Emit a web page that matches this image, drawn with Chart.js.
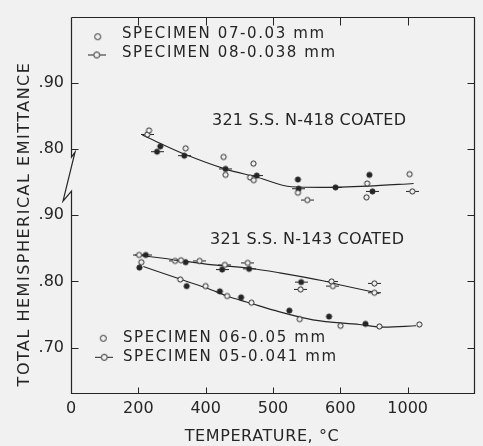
<!DOCTYPE html>
<html>
<head>
<meta charset="utf-8">
<script src="https://cdn.jsdelivr.net/npm/chart.js@4.4.1/dist/chart.umd.min.js"></script>
<style>
html,body{margin:0;padding:0;background:#f1f1f1;}
canvas{display:block;}
</style>
</head>
<body>
<canvas id="c" width="483" height="446"></canvas>
<script>
// ---------- DATA ----------
// x values are positions on the (non-uniform) temperature axis; tick i carries label X_TICK_LABELS[i]
const X_TICK_LABELS = ['0', '200', '400', '500', '600', '1000'];
// y axis is broken: lower panel (N-143) uses true emittance, upper panel (N-418) is shifted by UPPER_SHIFT
const Y_TICK_VALUES = [0.70, 0.80, 0.90, 1.00, 1.10];
const Y_TICK_LABELS = ['.70', '.80', '.90', '.80', '.90'];
const UPPER_SHIFT = 0.20;

const X_TITLE = 'TEMPERATURE, °C';
const Y_TITLE = 'TOTAL HEMISPHERICAL EMITTANCE';
const LABEL_N418 = '321 S.S. N-418 COATED';
const LABEL_N143 = '321 S.S. N-143 COATED';
const LEGEND_UPPER = ['SPECIMEN 07-0.03 mm', 'SPECIMEN 08-0.038 mm'];
const LEGEND_LOWER = ['SPECIMEN 06-0.05 mm', 'SPECIMEN 05-0.041 mm'];

// Upper panel: 321 S.S. N-418 coated
const n418OpenX = [1.159, 1.703, 2.266, 2.295, 2.710, 2.660, 2.714, 3.370, 4.398, 4.388, 5.029];
const n418OpenY = [0.828, 0.801, 0.788, 0.761, 0.778, 0.757, 0.753, 0.734, 0.748, 0.727, 0.762];
const n418OpenTickX = [1.134, 3.510, 5.069];
const n418OpenTickY = [0.822, 0.723, 0.736];
const n418SolidX = [1.327, 3.370, 4.432];
const n418SolidY = [0.804, 0.754, 0.761];
const n418SolidTickX = [1.278, 1.682, 2.295, 2.759, 3.381, 3.929, 4.477];
const n418SolidTickY = [0.796, 0.790, 0.770, 0.760, 0.740, 0.742, 0.736];
const n418CurveX = [1.060, 1.693, 2.285, 2.778, 3.273, 3.717, 4.407, 5.088];
const n418CurveY = [0.821, 0.792, 0.770, 0.757, 0.743, 0.742, 0.744, 0.748];

// Lower panel: 321 S.S. N-143 coated
const n143OpenTickX = [1.011, 1.545, 1.633, 1.910, 2.285, 2.625, 3.410, 3.869, 3.889, 4.506, 4.506];
const n143OpenTickY = [0.840, 0.831, 0.832, 0.831, 0.825, 0.828, 0.788, 0.800, 0.793, 0.797, 0.783];
const n143SolidTickX = [1.111, 2.245, 2.645, 3.418];
const n143SolidTickY = [0.840, 0.818, 0.819, 0.799];
const n143SolidX = [1.703, 1.016, 1.718, 2.211, 2.526, 3.243, 3.832, 4.373];
const n143SolidY = [0.829, 0.821, 0.793, 0.785, 0.776, 0.756, 0.747, 0.736];
const n143OpenX = [1.045, 1.623, 1.999, 2.319, 2.680, 3.396, 4.003, 4.580, 5.173];
const n143OpenY = [0.829, 0.803, 0.793, 0.778, 0.768, 0.743, 0.733, 0.732, 0.735];
const n143UpperCurveX = [0.952, 1.371, 2.112, 2.655, 3.099, 3.741, 4.037, 4.580];
const n143UpperCurveY = [0.840, 0.835, 0.825, 0.820, 0.813, 0.801, 0.794, 0.782];
const n143LowerCurveX = [1.075, 1.519, 2.014, 2.359, 2.606, 3.099, 3.592, 4.284, 4.654, 5.124];
const n143LowerCurveY = [0.8225, 0.807, 0.790, 0.7765, 0.769, 0.754, 0.742, 0.735, 0.731, 0.733];

// ---------- STYLE ----------
const INK = '#252525';
const BG = '#f1f1f1';
const FONT = '"DejaVu Sans", sans-serif';

function marker(filled, tick, r) {
  const w = tick ? 13 : Math.ceil(2 * r + 3), h = Math.ceil(2 * r + 3);
  const c = document.createElement('canvas');
  c.width = w; c.height = h;
  const g = c.getContext('2d');
  const cx = w / 2, cy = h / 2;
  g.strokeStyle = INK; g.lineWidth = 1;
  if (tick) {
    g.beginPath();
    g.moveTo(0, cy); g.lineTo(cx - r, cy);
    g.moveTo(cx + r, cy); g.lineTo(w, cy);
    g.stroke();
  }
  g.beginPath();
  g.arc(cx, cy, r, 0, Math.PI * 2);
  g.fillStyle = filled ? INK : BG;
  g.fill();
  g.stroke();
  return c;
}
const M_OPEN = marker(false, false, 2.6);
const M_OPEN_TICK = marker(false, true, 2.6);
const M_SOLID = marker(true, false, 2.6);
const M_SOLID_TICK = marker(true, true, 2.6);
const M_LEG_OPEN = marker(false, false, 3);
const M_LEG_OPEN_TICK = (function(){
  const c = document.createElement('canvas'); c.width = 18; c.height = 9;
  const g = c.getContext('2d'); g.strokeStyle = INK; g.lineWidth = 1;
  g.beginPath(); g.moveTo(0, 4.5); g.lineTo(6, 4.5); g.moveTo(12, 4.5); g.lineTo(18, 4.5); g.stroke();
  g.beginPath(); g.arc(9, 4.5, 3, 0, Math.PI * 2); g.fillStyle = BG; g.fill(); g.stroke();
  return c;
})();

function pts(xs, ys, shift) {
  return xs.map((x, i) => ({ x: x, y: ys[i] + (shift || 0) }));
}
function markerSet(label, xs, ys, shift, style) {
  return { label, data: pts(xs, ys, shift), pointStyle: style, pointRadius: 4, showLine: false, order: 1 };
}
function curveSet(label, xs, ys, shift) {
  return { label, data: pts(xs, ys, shift), showLine: true, pointRadius: 0, borderColor: INK,
           borderWidth: 1.1, cubicInterpolationMode: 'monotone', fill: false, order: 2 };
}

const datasets = [
  curveSet('N-418 fit', n418CurveX, n418CurveY, UPPER_SHIFT),
  curveSet('N-143 fit (05)', n143UpperCurveX, n143UpperCurveY, 0),
  curveSet('N-143 fit (06)', n143LowerCurveX, n143LowerCurveY, 0),
  markerSet('07 open', n418OpenX, n418OpenY, UPPER_SHIFT, M_OPEN),
  markerSet('08 open', n418OpenTickX, n418OpenTickY, UPPER_SHIFT, M_OPEN_TICK),
  markerSet('07/08 solid', n418SolidX, n418SolidY, UPPER_SHIFT, M_SOLID),
  markerSet('08 solid', n418SolidTickX, n418SolidTickY, UPPER_SHIFT, M_SOLID_TICK),
  markerSet('05 open', n143OpenTickX, n143OpenTickY, 0, M_OPEN_TICK),
  markerSet('05 solid', n143SolidTickX, n143SolidTickY, 0, M_SOLID_TICK),
  markerSet('06 solid', n143SolidX, n143SolidY, 0, M_SOLID),
  markerSet('06 open', n143OpenX, n143OpenY, 0, M_OPEN),
];

const framePlugin = {
  id: 'frame',
  beforeDraw(chart) {
    const ctx = chart.ctx;
    ctx.save(); ctx.fillStyle = BG; ctx.fillRect(0, 0, chart.width, chart.height); ctx.restore();
  },
  afterDraw(chart) {
    const ctx = chart.ctx, a = chart.chartArea, xs = chart.scales.x, ys = chart.scales.y;
    ctx.save();
    ctx.strokeStyle = INK; ctx.lineWidth = 1.2;
    const L = Math.round(a.left) + 0.5, R = Math.round(a.right) - 0.5, T = Math.round(a.top) + 0.5, B = Math.round(a.bottom) - 0.5;
    // axis with break on the left side
    const brkTop = (ys.getPixelForValue(1.00) + ys.getPixelForValue(0.90)) / 2 - 25;
    const brkBot = brkTop + 34;
    ctx.beginPath();
    ctx.moveTo(L, T); ctx.lineTo(R, T); ctx.lineTo(R, B); ctx.lineTo(L, B); ctx.lineTo(L, brkBot);
    ctx.lineTo(L - 8.5, brkBot + 10); ctx.lineTo(L + 3.5, brkTop - 5); ctx.lineTo(L, brkTop); ctx.lineTo(L, T);
    ctx.stroke();
    // inward ticks
    ctx.lineWidth = 1;
    ctx.beginPath();
    Y_TICK_VALUES.forEach(v => {
      const y = Math.round(ys.getPixelForValue(v)) + 0.5;
      ctx.moveTo(L, y); ctx.lineTo(L + 7, y);
      ctx.moveTo(R, y); ctx.lineTo(R - 7, y);
    });
    for (let i = 1; i < X_TICK_LABELS.length; i++) {
      const x = Math.round(xs.getPixelForValue(i)) + 0.5;
      ctx.moveTo(x, T); ctx.lineTo(x, T + 8);
      ctx.moveTo(x, B); ctx.lineTo(x, B - 6);
    }
    ctx.stroke();

    // texts
    ctx.fillStyle = INK;
    ctx.textBaseline = 'middle';
    ctx.textAlign = 'center';
    ctx.font = '16px ' + FONT;
    ctx.letterSpacing = '0.6px';
    ctx.fillText(X_TITLE, 262, 437);
    ctx.save();
    ctx.translate(25, 224); ctx.rotate(-Math.PI / 2);
    ctx.letterSpacing = '1.5px';
    ctx.fillText(Y_TITLE, 0, 0);
    ctx.restore();

    ctx.textAlign = 'left';
    ctx.font = '16px ' + FONT;
    ctx.letterSpacing = '0.2px';
    ctx.fillText(LABEL_N418, 212, 121);
    ctx.fillText(LABEL_N143, 210, 240);

    ctx.font = '15px ' + FONT;
    ctx.letterSpacing = '1.6px';
    ctx.fillText(LEGEND_UPPER[0], 122, 34.5);
    ctx.fillText(LEGEND_UPPER[1], 122, 53.5);
    ctx.fillText(LEGEND_LOWER[0], 123, 338.5);
    ctx.fillText(LEGEND_LOWER[1], 123, 357.5);
    ctx.letterSpacing = '0px';
    const dm = (img, x, y) => ctx.drawImage(img, x - img.width / 2, y - img.height / 2);
    dm(M_LEG_OPEN, 97.7, 36.7);
    dm(M_LEG_OPEN_TICK, 96.7, 55);
    dm(M_LEG_OPEN, 103.3, 338.3);
    dm(M_LEG_OPEN_TICK, 104.3, 357.3);
    ctx.restore();
  }
};

new Chart(document.getElementById('c'), {
  type: 'scatter',
  data: { datasets },
  options: {
    responsive: false,
    devicePixelRatio: 1,
    animation: false,
    events: [],
    layout: { padding: { top: 7, right: 8, left: 0, bottom: 0 } },
    plugins: { legend: { display: false }, tooltip: { enabled: false } },
    scales: {
      x: {
        type: 'linear', min: 0, max: 6,
        grid: { display: false, drawTicks: false }, border: { display: false },
        ticks: {
          stepSize: 1, padding: 5, color: INK, font: { family: FONT, size: 16 },
          maxRotation: 0, autoSkip: false,
          callback: (v) => (X_TICK_LABELS[v] !== undefined ? X_TICK_LABELS[v] : '')
        },
        afterFit: (s) => { s.height = 52; }
      },
      y: {
        type: 'linear', min: 0.63, max: 1.2,
        grid: { display: false, drawTicks: false }, border: { display: false },
        afterBuildTicks: (s) => { s.ticks = Y_TICK_VALUES.map(v => ({ value: v })); },
        ticks: {
          padding: 7, color: INK, font: { family: FONT, size: 16 },
          callback: (v, i) => Y_TICK_LABELS[i]
        },
        afterFit: (s) => { s.width = 71; }
      }
    }
  },
  plugins: [framePlugin]
});
</script>
</body>
</html>
